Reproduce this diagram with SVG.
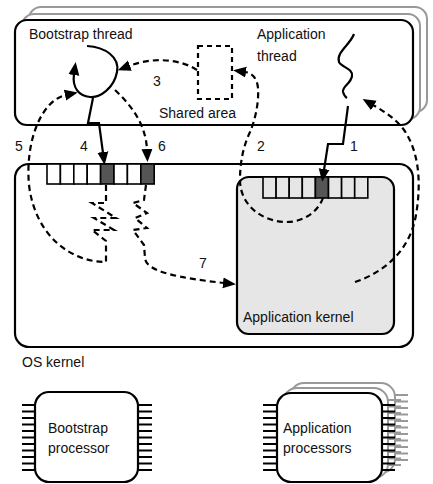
<svg xmlns="http://www.w3.org/2000/svg" width="433" height="484" viewBox="0 0 433 484">
<style>
text{font-family:"Liberation Sans",Arial,sans-serif;font-size:14px;fill:#111}
.box{fill:#fff;stroke:#000;stroke-width:2.2}
.sh{fill:#fff;stroke:#999;stroke-width:2}
.cell{fill:#fff;stroke:#000;stroke-width:1.6}
.gcell{fill:#e6e6e6;stroke:#000;stroke-width:1.6}
.dark{fill:#555;stroke:#000;stroke-width:1.6}
.solid{fill:none;stroke:#000;stroke-width:2.2;stroke-linejoin:miter}
.dash{fill:none;stroke:#000;stroke-width:2.2;stroke-dasharray:6 4}
.pin{stroke:#000;stroke-width:2}
.gpin{stroke:#999;stroke-width:2}
</style>
<defs>
<marker id="ah" markerUnits="userSpaceOnUse" markerWidth="14" markerHeight="12" viewBox="0 -6 14 12" refX="1" refY="0" orient="auto"><path d="M0,-5.5 L13,0 L0,5.5 Z" fill="#000"/></marker>
</defs>

<g id="user-space">
<rect class="sh" x="29" y="7" width="398" height="105" rx="12"/>
<rect class="sh" x="22" y="14" width="398" height="105" rx="12"/>
<rect class="box" x="15" y="20" width="398" height="105" rx="12"/>
<text x="29" y="39">Bootstrap thread</text>
<text x="257" y="39">Application</text>
<text x="257" y="61">thread</text>
</g>

<g id="shared-area">
<rect x="198" y="46" width="34" height="53" fill="none" stroke="#000" stroke-width="2.2" stroke-dasharray="5 4"/>
<text x="159" y="118">Shared area</text>
</g>

<g id="os-kernel">
<rect class="box" x="15" y="164" width="398" height="183" rx="14"/>
<text x="22" y="367">OS kernel</text>
</g>

<g id="bootstrap-table">
<rect class="cell" x="47" y="164" width="13.4" height="20"/>
<rect class="cell" x="60.4" y="164" width="13.4" height="20"/>
<rect class="cell" x="73.8" y="164" width="13.4" height="20"/>
<rect class="cell" x="87.2" y="164" width="13.4" height="20"/>
<rect class="dark" x="100.6" y="164" width="13.4" height="20"/>
<rect class="cell" x="114" y="164" width="13.4" height="20"/>
<rect class="cell" x="127.4" y="164" width="13.4" height="20"/>
<rect class="dark" x="140.8" y="164" width="13.4" height="20"/>
</g>

<g id="application-kernel">
<rect x="237" y="177" width="157" height="157" rx="12" fill="#e6e6e6" stroke="#000" stroke-width="2.2"/>
<rect class="gcell" x="263" y="177" width="13.1" height="21"/>
<rect class="gcell" x="276.1" y="177" width="13.1" height="21"/>
<rect class="gcell" x="289.2" y="177" width="13.1" height="21"/>
<rect class="gcell" x="302.3" y="177" width="13.1" height="21"/>
<rect class="dark" x="315.4" y="177" width="13.1" height="21"/>
<rect class="gcell" x="328.5" y="177" width="13.1" height="21"/>
<rect class="gcell" x="341.6" y="177" width="13.1" height="21"/>
<rect class="gcell" x="354.7" y="177" width="13.1" height="21"/>
<text x="243" y="322">Application kernel</text>
</g>

<g id="threads">
<path class="solid" d="M87,46 C105,47 120,57 117,72 C114,88 100,98 90,97 C79,96 72,88 74,74" marker-end="url(#ah)"/>
<path class="solid" d="M354,34 C350,45 336,52 339,62 C342,68 353,68 352,76 C351,84 342,86 343,92 C344,95 345,97 347,98" stroke-width="2"/>
</g>

<g id="connectors">
<path class="solid" d="M348,106 L343,144 L328,144 L324,170" marker-end="url(#ah)"/>
<text x="350" y="151">1</text>
<path class="dash" d="M323,198 C318,212 303,222 287,222 C262,222 240,205 240,180 C240,160 244,145 250,132 C256,118 259,100 258,88 C257,78 252,73 245,72" marker-end="url(#ah)"/>
<text x="257" y="151">2</text>
<path class="dash" d="M197,70 C182,60 155,56 129,66" marker-end="url(#ah)"/>
<text x="153" y="86">3</text>
<path class="solid" d="M93,98 L88,123 L99,123 L103,153" marker-end="url(#ah)"/>
<text x="80" y="151">4</text>
<path class="dash" d="M106,185 L106,203 L92,203 L116,218 L94,218 L114,230 L92,230 L106,241 L106,262 C70,262 35,235 29,185 C25,140 42,100 66,95" marker-end="url(#ah)"/>
<text x="15" y="151">5</text>
<path class="dash" d="M115,90 C132,106 146,125 147,150" marker-end="url(#ah)"/>
<text x="158" y="151">6</text>
<path class="dash" d="M146,185 L144,200 L133,203 L147,213 L135,218 L147,228 L133,230 L144,245 L145,258 C146,272 180,278 224,283" marker-end="url(#ah)"/>
<text x="199" y="268">7</text>
<path class="dash" d="M355,282 C385,272 410,250 416,215 C422,180 418,150 404,130 C395,118 385,112 373,105" marker-end="url(#ah)"/>
</g>

<g id="bootstrap-processor">
<g class="pin">
<line x1="22" y1="405" x2="35" y2="405"/><line x1="22" y1="411.5" x2="35" y2="411.5"/><line x1="22" y1="418" x2="35" y2="418"/><line x1="22" y1="424.5" x2="35" y2="424.5"/><line x1="22" y1="431" x2="35" y2="431"/><line x1="22" y1="437.5" x2="35" y2="437.5"/><line x1="22" y1="444" x2="35" y2="444"/><line x1="22" y1="450.5" x2="35" y2="450.5"/><line x1="22" y1="457" x2="35" y2="457"/><line x1="22" y1="463.5" x2="35" y2="463.5"/><line x1="22" y1="470" x2="35" y2="470"/>
<line x1="138" y1="405" x2="152" y2="405"/><line x1="138" y1="411.5" x2="152" y2="411.5"/><line x1="138" y1="418" x2="152" y2="418"/><line x1="138" y1="424.5" x2="152" y2="424.5"/><line x1="138" y1="431" x2="152" y2="431"/><line x1="138" y1="437.5" x2="152" y2="437.5"/><line x1="138" y1="444" x2="152" y2="444"/><line x1="138" y1="450.5" x2="152" y2="450.5"/><line x1="138" y1="457" x2="152" y2="457"/><line x1="138" y1="463.5" x2="152" y2="463.5"/><line x1="138" y1="470" x2="152" y2="470"/>
</g>
<rect class="box" x="35" y="392" width="103" height="90" rx="14"/>
<text x="48" y="433">Bootstrap</text>
<text x="48" y="453">processor</text>
</g>

<g id="application-processors">
<g class="gpin">
<line x1="395" y1="395" x2="408" y2="395"/><line x1="395" y1="401.5" x2="408" y2="401.5"/><line x1="395" y1="408" x2="408" y2="408"/><line x1="395" y1="414.5" x2="408" y2="414.5"/><line x1="395" y1="421" x2="408" y2="421"/><line x1="395" y1="427.5" x2="408" y2="427.5"/><line x1="395" y1="434" x2="408" y2="434"/><line x1="395" y1="440.5" x2="408" y2="440.5"/><line x1="395" y1="447" x2="408" y2="447"/><line x1="395" y1="453.5" x2="408" y2="453.5"/><line x1="395" y1="460" x2="408" y2="460"/>
</g>
<rect class="sh" x="290" y="383" width="105" height="90" rx="14"/>
<g class="gpin">
<line x1="388" y1="400" x2="401" y2="400"/><line x1="388" y1="406.5" x2="401" y2="406.5"/><line x1="388" y1="413" x2="401" y2="413"/><line x1="388" y1="419.5" x2="401" y2="419.5"/><line x1="388" y1="426" x2="401" y2="426"/><line x1="388" y1="432.5" x2="401" y2="432.5"/><line x1="388" y1="439" x2="401" y2="439"/><line x1="388" y1="445.5" x2="401" y2="445.5"/><line x1="388" y1="452" x2="401" y2="452"/><line x1="388" y1="458.5" x2="401" y2="458.5"/><line x1="388" y1="465" x2="401" y2="465"/>
</g>
<rect class="sh" x="283" y="388" width="105" height="90" rx="14"/>
<g class="pin">
<line x1="263" y1="405" x2="277" y2="405"/><line x1="263" y1="411.5" x2="277" y2="411.5"/><line x1="263" y1="418" x2="277" y2="418"/><line x1="263" y1="424.5" x2="277" y2="424.5"/><line x1="263" y1="431" x2="277" y2="431"/><line x1="263" y1="437.5" x2="277" y2="437.5"/><line x1="263" y1="444" x2="277" y2="444"/><line x1="263" y1="450.5" x2="277" y2="450.5"/><line x1="263" y1="457" x2="277" y2="457"/><line x1="263" y1="463.5" x2="277" y2="463.5"/><line x1="263" y1="470" x2="277" y2="470"/>
<line x1="382" y1="405" x2="395" y2="405"/><line x1="382" y1="411.5" x2="395" y2="411.5"/><line x1="382" y1="418" x2="395" y2="418"/><line x1="382" y1="424.5" x2="395" y2="424.5"/><line x1="382" y1="431" x2="395" y2="431"/><line x1="382" y1="437.5" x2="395" y2="437.5"/><line x1="382" y1="444" x2="395" y2="444"/><line x1="382" y1="450.5" x2="395" y2="450.5"/><line x1="382" y1="457" x2="395" y2="457"/><line x1="382" y1="463.5" x2="395" y2="463.5"/><line x1="382" y1="470" x2="395" y2="470"/>
</g>
<rect class="box" x="277" y="393" width="105" height="89" rx="14"/>
<text x="283" y="433">Application</text>
<text x="283" y="453">processors</text>
</g>
</svg>
